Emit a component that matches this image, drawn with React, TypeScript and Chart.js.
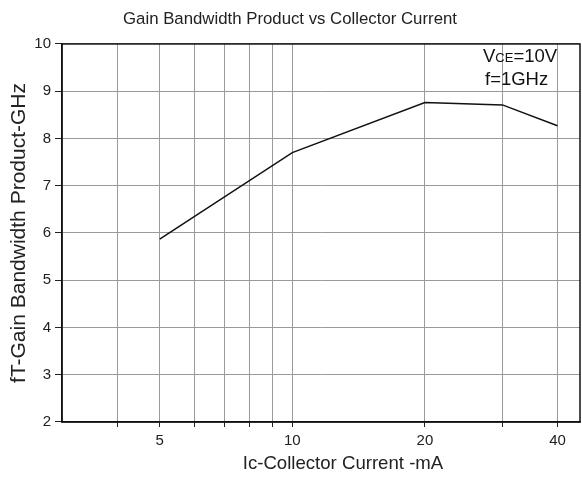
import React, { useEffect, useRef } from 'react';
import { Chart, registerables } from 'chart.js';

Chart.register(...registerables);

// Data
const currentMA = [5, 10, 20, 30, 40];
const ftGHz = [5.87, 7.7, 8.76, 8.71, 8.27];

// Axis definitions
const xGridValues = [4, 5, 6, 7, 8, 9, 10, 20, 30, 40];
const xLabelValues = [5, 10, 20, 40];
const xMin = 3;
const xMax = 45;
const yMin = 2;
const yMax = 10;

const chartTitle = 'Gain Bandwidth Product vs Collector Current';
const xTitle = 'Ic-Collector Current -mA';
const yTitle = 'fT-Gain Bandwidth Product-GHz';

const FONT = '"Liberation Sans", Arial, Helvetica, sans-serif';
const TEXT = '#222';

const framePlugin = {
  id: 'frame',
  afterDraw(chart: any) {
    const { ctx, chartArea: a } = chart;
    ctx.save();
    ctx.strokeStyle = '#111';
    ctx.lineWidth = 1.5;
    ctx.strokeRect(a.left, a.top, a.right - a.left, a.bottom - a.top);

    // x axis title (offset to the right, as in the reference)
    ctx.fillStyle = TEXT;
    ctx.font = `18.6px ${FONT}`;
    ctx.textAlign = 'center';
    ctx.textBaseline = 'middle';
    ctx.fillText(xTitle, (a.left + a.right) / 2 + 22, chart.height - 14);

    // condition annotation (top-right)
    ctx.fillStyle = '#111';
    ctx.textBaseline = 'alphabetic';
    ctx.textAlign = 'left';
    let x = a.right - 97;
    const y1 = a.top + 18;
    ctx.font = `18.5px ${FONT}`;
    ctx.fillText('V', x, y1);
    x += ctx.measureText('V').width;
    ctx.font = `13px ${FONT}`;
    ctx.fillText('CE', x, y1);
    x += ctx.measureText('CE').width;
    ctx.font = `18.5px ${FONT}`;
    ctx.fillText('=10V', x, y1);
    ctx.fillText('f=1GHz', a.right - 95, a.top + 41);
    ctx.restore();
  },
};

export default function App() {
  const ref = useRef<HTMLCanvasElement | null>(null);

  useEffect(() => {
    if (!ref.current) return;
    const chart = new Chart(ref.current, {
      type: 'line',
      data: {
        datasets: [
          {
            data: currentMA.map((c, i) => ({ x: c, y: ftGHz[i] })),
            borderColor: '#111',
            borderWidth: 1.5,
            pointRadius: 0,
            fill: false,
            tension: 0,
          },
        ],
      },
      options: {
        responsive: false,
        animation: false,
        devicePixelRatio: 1,
        layout: { padding: { left: 0, right: 2, top: 0, bottom: 0 } },
        plugins: {
          legend: { display: false },
          tooltip: { enabled: false },
          title: {
            display: true,
            text: chartTitle,
            color: TEXT,
            font: { family: FONT, size: 16.8, weight: 'normal' },
            padding: { top: 9, bottom: 14.8 },
          },
        },
        scales: {
          x: {
            type: 'logarithmic',
            min: xMin,
            max: xMax,
            afterBuildTicks: (scale: any) => {
              scale.ticks = xGridValues.map((v) => ({ value: v }));
            },
            afterFit: (scale: any) => {
              scale.height = 56;
            },
            ticks: {
              autoSkip: false,
              maxRotation: 0,
              color: TEXT,
              padding: 5,
              font: { family: FONT, size: 15 },
              callback: (v: any) => (xLabelValues.includes(Number(v)) ? String(v) : ''),
            },
            grid: { color: '#9a9a9a', lineWidth: 1, tickColor: '#222', tickLength: 5 },
            border: { color: '#111', width: 1.5 },
            title: { display: false, text: xTitle },
          },
          y: {
            type: 'linear',
            min: yMin,
            max: yMax,
            afterFit: (scale: any) => {
              scale.width = 62;
            },
            ticks: {
              stepSize: 1,
              color: TEXT,
              padding: 4,
              font: { family: FONT, size: 15 },
            },
            grid: { color: '#9a9a9a', lineWidth: 1, tickColor: '#222', tickLength: 7 },
            border: { color: '#111', width: 1.5 },
            title: {
              display: true,
              text: yTitle,
              color: TEXT,
              font: { family: FONT, size: 21 },
              padding: { top: 7, bottom: 2 },
            },
          },
        },
      },
      plugins: [framePlugin],
    });
    return () => chart.destroy();
  }, []);

  return (
    <div style={{ position: 'fixed', left: 0, top: 0, width: 582, height: 478, background: '#fff' }}>
      <canvas ref={ref} width={582} height={478} style={{ width: 582, height: 478, display: 'block' }} />
    </div>
  );
}
